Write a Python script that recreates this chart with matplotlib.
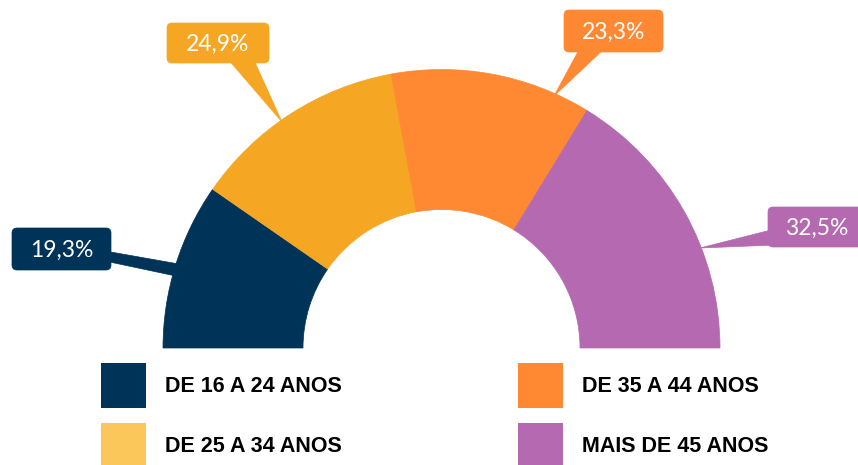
import matplotlib
matplotlib.use("Agg")
import matplotlib.pyplot as plt
from matplotlib.patches import Wedge, FancyBboxPatch, Polygon, Rectangle

W, H = 858, 465

# DATA
labels = ["DE 16 A 24 ANOS", "DE 25 A 34 ANOS", "DE 35 A 44 ANOS", "MAIS DE 45 ANOS"]
values = [19.3, 24.9, 23.3, 32.5]
slice_colors = ["#003358", "#F5A623", "#FF8833", "#B469B0"]
legend_colors = ["#003358", "#FCC75A", "#FF8833", "#B469B0"]

# LAYOUT (screen pixels, y measured from the top)
center = (441.5, 348)
r_out, r_in = 278.5, 138.5

# callout boxes (x0, y0, x1, y1) and pointer polygons
boxes = [(12, 228, 111, 270), (167, 23, 269, 63), (564, 10, 663, 52), (768, 207, 867, 247)]
pointers = [
    [(105, 251), (105, 261), (190, 279), (190, 266)],
    [(227, 58), (253, 58), (282, 122)],
    [(580, 48), (605, 48), (554, 96)],
    [(775, 229), (775, 245), (700, 248)],
]
legend_pos = [(101, 363), (101, 423), (518, 363), (518, 423)]
square = 45


def fy(y):
    # screen y (top down) -> axis y (bottom up)
    return H - y


fig = plt.figure(figsize=(W / 100, H / 100), dpi=100)
ax = fig.add_axes([0, 0, 1, 1])
ax.set_xlim(0, W)
ax.set_ylim(0, H)
ax.axis("off")

# half donut, running clockwise from the left
total = sum(values)
start = 180.0
for v, c in zip(values, slice_colors):
    span = v / total * 180.0
    ax.add_patch(Wedge((center[0], fy(center[1])), r_out, start - span, start,
                       width=r_out - r_in, facecolor=c, edgecolor=c, linewidth=0.5))
    start -= span

# value callouts
for v, c, (x0, y0, x1, y1), pts in zip(values, slice_colors, boxes, pointers):
    ax.add_patch(Polygon([(x, fy(y)) for x, y in pts], closed=True,
                         facecolor=c, edgecolor=c, linewidth=0.5))
    ax.add_patch(FancyBboxPatch((x0, fy(y1)), x1 - x0, y1 - y0,
                                boxstyle="round,pad=0,rounding_size=5",
                                facecolor=c, edgecolor=c, linewidth=0.5))
    label = f"{v:.1f}%".replace(".", ",")
    tx = 817 if x1 > W else (x0 + x1) / 2
    ax.text(tx, fy((y0 + y1) / 2) - 1, label, color="white", fontsize=16.5,
            family="Lato", ha="center", va="center")

# legend
for lab, c, (x, y) in zip(labels, legend_colors, legend_pos):
    ax.add_patch(Rectangle((x, fy(y + square)), square, square, facecolor=c, edgecolor="none"))
    ax.text(x + square + 19, fy(y + square / 2) - 1, lab, color="black", fontsize=15.5,
            family="Liberation Sans", fontweight="bold", ha="left", va="center")

fig.savefig("out.png", dpi=100)
